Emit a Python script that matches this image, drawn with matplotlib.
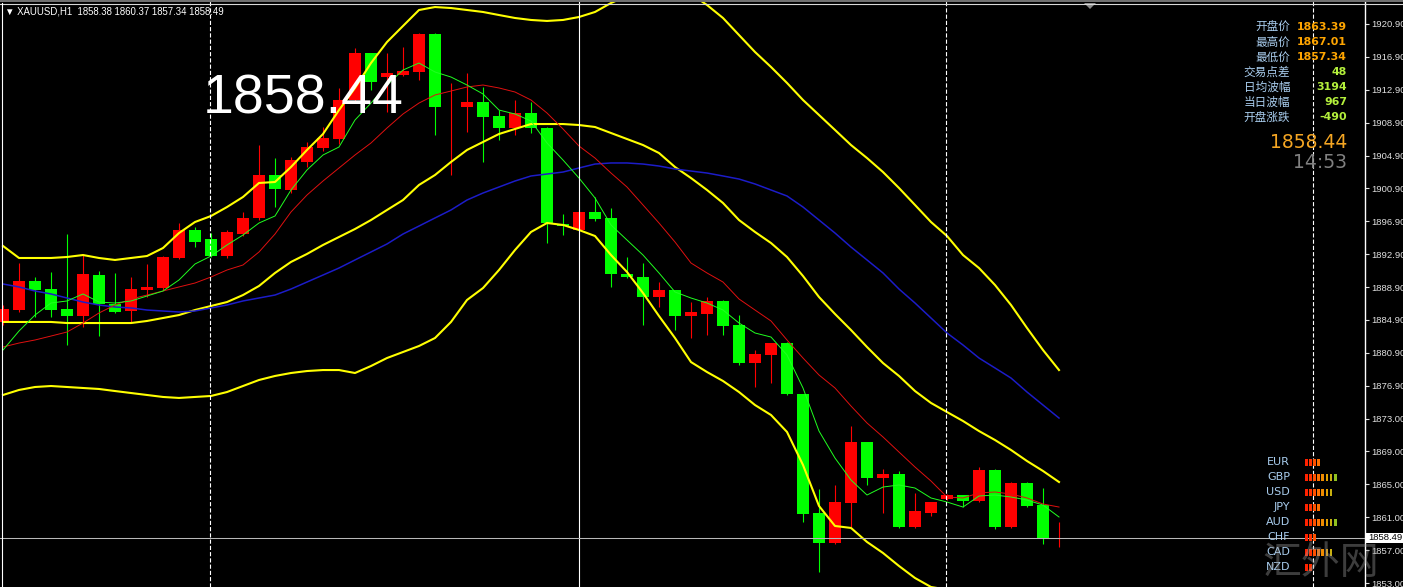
import numpy as np
import matplotlib
matplotlib.use("Agg")
import matplotlib.pyplot as plt
from matplotlib.patches import Rectangle, Polygon
from matplotlib.lines import Line2D

plt.rcParams['font.family'] = ['Liberation Sans', 'DejaVu Sans']
plt.rcParams['lines.scale_dashes'] = False

# XAUUSD H1 bars, oldest -> newest
opens = [1884.71, 1886.16, 1889.68, 1888.71, 1886.29, 1885.43, 1890.41, 1886.89, 1886.04, 1888.59,
         1888.83, 1892.48, 1895.88, 1894.79, 1892.72, 1895.39, 1897.34, 1902.56, 1900.74, 1904.14,
         1905.84, 1906.93, 1911.67, 1917.38, 1914.46, 1914.71, 1915.07, 1919.69, 1910.88, 1910.82,
         1911.43, 1909.73, 1908.27, 1910.09, 1908.27, 1896.61, 1895.88, 1898.07, 1897.34, 1890.54,
         1890.17, 1887.74, 1888.59, 1885.43, 1885.68, 1887.26, 1884.34, 1879.72, 1880.70, 1882.15,
         1875.96, 1861.51, 1857.86, 1862.72, 1870.13, 1865.76, 1866.24, 1859.81, 1861.51, 1863.21,
         1863.69, 1862.96, 1866.73, 1859.81, 1865.15, 1862.47, 1858.38]
highs = [1886.77, 1891.87, 1890.17, 1890.78, 1895.39, 1892.84, 1890.90, 1890.66, 1890.17, 1891.75,
         1892.72, 1896.73, 1896.24, 1895.51, 1895.88, 1898.07, 1906.20, 1904.62, 1904.75, 1906.57,
         1908.39, 1913.13, 1917.98, 1917.38, 1917.38, 1918.11, 1919.81, 1919.81, 1913.73, 1914.95,
         1913.25, 1910.45, 1911.67, 1911.43, 1908.39, 1897.82, 1898.19, 1899.89, 1898.55, 1892.60,
         1891.87, 1889.56, 1888.59, 1887.13, 1887.74, 1887.38, 1885.56, 1881.30, 1882.15, 1882.28,
         1875.96, 1864.42, 1864.91, 1872.07, 1870.13, 1866.85, 1866.61, 1863.94, 1862.84, 1863.81,
         1863.69, 1867.09, 1866.85, 1865.27, 1865.27, 1864.54, 1860.37]
lows = [1884.34, 1885.92, 1885.31, 1885.31, 1881.91, 1884.10, 1883.00, 1885.80, 1884.58, 1887.74,
        1888.59, 1892.36, 1893.81, 1892.60, 1892.48, 1895.15, 1897.09, 1898.67, 1900.37, 1903.53,
        1905.47, 1906.33, 1911.30, 1912.88, 1910.21, 1914.58, 1914.10, 1907.42, 1902.56, 1907.78,
        1904.14, 1906.81, 1907.42, 1907.66, 1894.30, 1895.27, 1895.76, 1896.97, 1888.96, 1890.05,
        1884.34, 1886.53, 1883.73, 1882.76, 1883.12, 1883.12, 1879.48, 1876.81, 1877.30, 1875.84,
        1860.41, 1854.34, 1857.74, 1859.81, 1864.91, 1861.51, 1859.69, 1859.69, 1861.14, 1863.08,
        1862.23, 1862.84, 1859.57, 1859.69, 1862.23, 1857.74, 1857.34]
closes = [1886.29, 1889.68, 1888.59, 1886.16, 1885.43, 1890.54, 1886.89, 1885.92, 1888.71, 1888.96,
          1892.60, 1895.88, 1894.42, 1892.72, 1895.63, 1897.34, 1902.56, 1900.86, 1904.38, 1905.96,
          1907.05, 1911.67, 1917.38, 1913.86, 1914.95, 1915.19, 1919.69, 1910.82, 1911.00, 1911.43,
          1909.60, 1908.27, 1910.09, 1908.27, 1896.73, 1896.36, 1898.07, 1897.22, 1890.54, 1890.17,
          1887.74, 1888.59, 1885.43, 1885.92, 1887.26, 1884.22, 1879.72, 1880.82, 1882.15, 1875.96,
          1861.38, 1857.86, 1862.84, 1870.13, 1865.76, 1866.24, 1859.81, 1861.75, 1862.84, 1863.69,
          1862.96, 1866.73, 1859.81, 1865.15, 1862.35, 1858.47, 1858.49]

# indicator lines
ma_fast = [1881.30, 1883.61, 1885.55, 1887.01, 1887.26, 1888.11, 1887.13, 1887.01, 1887.26, 1887.86,
           1888.47, 1889.81, 1891.75, 1892.72, 1894.06, 1895.27, 1896.73, 1897.58, 1900.74, 1903.17,
           1904.99, 1905.96, 1909.24, 1911.30, 1913.49, 1915.31, 1916.16, 1915.07, 1914.46, 1913.49,
           1912.40, 1910.45, 1909.97, 1909.12, 1906.45, 1904.38, 1902.19, 1899.77, 1896.49, 1894.66,
           1892.84, 1890.66, 1888.35, 1887.62, 1887.01, 1886.16, 1884.58, 1883.37, 1882.88, 1880.70,
           1876.69, 1871.46, 1868.18, 1865.51, 1863.69, 1864.66, 1864.91, 1864.54, 1863.33, 1862.84,
           1862.23, 1863.57, 1863.69, 1863.45, 1863.08, 1862.47, 1861.02]
ma_mid = [1881.67, 1882.15, 1882.52, 1883.00, 1883.49, 1884.58, 1885.80, 1886.77, 1887.50, 1887.98,
          1888.47, 1888.96, 1889.44, 1890.17, 1891.02, 1891.63, 1893.21, 1895.39, 1898.07, 1900.13,
          1901.83, 1903.41, 1904.99, 1906.45, 1908.27, 1909.97, 1911.30, 1912.28, 1912.76, 1913.25,
          1913.49, 1913.13, 1912.64, 1911.67, 1910.09, 1908.15, 1906.08, 1904.62, 1902.80, 1901.10,
          1898.92, 1896.73, 1894.42, 1891.87, 1890.66, 1889.56, 1887.50, 1886.16, 1884.83, 1882.52,
          1880.33, 1878.27, 1876.69, 1874.50, 1872.44, 1870.74, 1868.91, 1867.09, 1865.39, 1863.45,
          1863.33, 1863.94, 1864.06, 1863.81, 1863.33, 1862.60, 1862.23]
ma_long = [1889.32, 1888.96, 1888.47, 1888.11, 1887.62, 1887.13, 1886.77, 1886.53, 1886.41, 1886.16,
           1886.04, 1885.92, 1886.04, 1886.41, 1886.77, 1887.26, 1887.62, 1887.98, 1888.71, 1889.56,
           1890.41, 1891.26, 1892.24, 1893.21, 1894.18, 1895.39, 1896.36, 1897.34, 1898.31, 1899.52,
           1900.37, 1901.10, 1901.83, 1902.44, 1902.68, 1902.92, 1903.41, 1903.89, 1904.02, 1904.02,
           1903.89, 1903.65, 1903.29, 1903.04, 1902.80, 1902.44, 1902.07, 1901.47, 1900.74, 1900.01,
           1898.67, 1897.09, 1895.51, 1893.81, 1892.24, 1890.66, 1888.71, 1887.01, 1885.19, 1883.37,
           1881.91, 1880.33, 1879.12, 1877.90, 1876.20, 1874.62, 1873.04]
bb_upper = [1893.94, 1892.48, 1892.48, 1892.48, 1892.60, 1892.84, 1892.48, 1892.24, 1892.48, 1892.72,
            1893.69, 1895.51, 1896.85, 1897.58, 1898.67, 1899.89, 1901.59, 1901.71, 1903.53, 1905.60,
            1907.54, 1910.45, 1913.13, 1916.16, 1918.71, 1920.66, 1922.60, 1922.96, 1922.84, 1922.60,
            1922.36, 1921.99, 1921.63, 1921.39, 1921.27, 1921.39, 1921.75, 1922.36, 1923.45, 1924.30,
            1924.79, 1925.27, 1925.03, 1924.54, 1923.21, 1921.63, 1919.56, 1917.50, 1915.68, 1913.74,
            1911.67, 1909.85, 1908.03, 1906.20, 1904.62, 1902.92, 1900.98, 1898.92, 1896.85, 1895.15,
            1892.84, 1891.26, 1889.20, 1886.77, 1883.98, 1881.30, 1878.87]
bb_middle = [1884.71, 1884.71, 1884.71, 1884.71, 1884.58, 1884.58, 1884.58, 1884.58, 1884.58, 1884.83,
             1885.19, 1885.55, 1886.16, 1886.65, 1887.13, 1887.98, 1889.08, 1890.66, 1892.00, 1892.97,
             1894.06, 1895.03, 1896.00, 1897.09, 1898.31, 1899.52, 1901.35, 1902.56, 1904.14, 1905.60,
             1906.57, 1907.54, 1908.15, 1908.75, 1908.75, 1908.75, 1908.63, 1908.39, 1907.66, 1906.93,
             1906.20, 1905.23, 1903.53, 1902.19, 1900.74, 1899.16, 1897.09, 1895.64, 1894.30, 1892.60,
             1890.29, 1887.74, 1885.68, 1883.73, 1881.67, 1879.72, 1878.15, 1876.32, 1874.87, 1873.77,
             1872.68, 1871.46, 1870.37, 1869.16, 1867.82, 1866.61, 1865.27]
bb_lower = [1875.84, 1876.45, 1876.81, 1876.93, 1876.81, 1876.69, 1876.57, 1876.32, 1876.08, 1875.84,
            1875.60, 1875.48, 1875.60, 1875.72, 1876.20, 1876.93, 1877.66, 1878.15, 1878.51, 1878.75,
            1878.87, 1878.87, 1878.51, 1879.36, 1880.33, 1881.06, 1881.79, 1882.76, 1884.71, 1887.38,
            1888.83, 1891.02, 1893.45, 1895.64, 1896.73, 1896.49, 1895.88, 1895.15, 1892.84, 1890.78,
            1888.23, 1885.43, 1882.76, 1879.84, 1878.63, 1877.54, 1876.20, 1874.62, 1873.41, 1871.35,
            1867.34, 1862.36, 1859.93, 1859.69, 1857.99, 1856.65, 1855.07, 1853.61, 1852.52, 1852.20,
            1852.10, 1851.67, 1851.55, 1851.55, 1851.67, 1851.91, 1851.67]

price_labels = ["1920.90", "1916.90", "1912.90", "1908.90", "1904.90", "1900.90", "1896.90",
                "1892.90", "1888.90", "1884.90", "1880.90", "1876.90", "1873.00", "1869.00",
                "1865.00", "1861.00", "1857.00", "1853.00"]
separator_bars = [12.95, 58.95, 81.85]
cursor_bar = 36
last_price = 1858.49
header = "\u25bc XAUUSD,H1  1858.38 1860.37 1857.34 1858.49"
big_price = "1858.44"
clock = "14:53"

info_labels = ["开盘价", "最高价", "最低价", "交易点差", "日均波幅", "当日波幅", "开盘涨跌"]
info_values = ["1863.39", "1867.01", "1857.34", "48", "3194", "967", "-490"]
currencies = ["EUR", "GBP", "USD", "JPY", "AUD", "CHF", "CAD", "NZD"]
strength = [4, 8, 7, 4, 8, 3, 7, 2]

W, H = 1403, 587
def fx(px):
    return px / W
def fy(py):
    return 1 - py / H

fig = plt.figure(figsize=(W / 100, H / 100), dpi=100, facecolor='black')
ax = fig.add_axes([0, 0, 1365 / W, 1])
ax.set_facecolor('black')

n = len(opens)
x = np.arange(n)
o = np.array(opens); c = np.array(closes)
up = c >= o
col = np.where(up, '#ff0000', '#00ff00')

# candles (red = up, green = down)
ax.vlines(x, lows, highs, colors=col, linewidth=0.8, zorder=2)
body_lo = np.minimum(o, c)
body_h = np.maximum(np.abs(c - o), 0.12)
ax.bar(x, body_h, bottom=body_lo, width=0.69, color=col, linewidth=0, zorder=2)

# indicators
ax.plot(x, bb_upper, color='#ffff00', lw=1.5, zorder=3)
ax.plot(x, bb_middle, color='#ffff00', lw=1.5, zorder=3)
ax.plot(x, bb_lower, color='#ffff00', lw=1.5, zorder=3)
ax.plot(x, ma_long, color='#1c1cc8', lw=1.1, zorder=3)
ax.plot(x, ma_mid, color='#e01010', lw=0.7, zorder=3)
ax.plot(x, ma_fast, color='#20ff20', lw=0.7, zorder=3)

# separators and cursor line
for s in separator_bars:
    ax.axvline(s, color='white', lw=0.8, ls=(0, (3, 1.5)), zorder=4)
ax.axvline(cursor_bar, color='white', lw=0.8, zorder=4)
ax.axhline(last_price, color='#b8b8b8', lw=0.75, zorder=4)

ax.set_xlim(-0.1875, (1365 - 3) / 16)
ax.set_ylim(1923.815 - 587 * 0.12146, 1923.815)
ax.set_xticks([])
ax.yaxis.tick_right()
ax.set_yticks(np.linspace(1920.9, 1853.0, len(price_labels)))
ax.set_yticklabels(price_labels)
ax.tick_params(axis='y', colors='#e0e0e0', labelcolor='#e0e0e0', length=3, width=0.8,
               pad=1.5, labelsize=6.8)
for sp in ['left', 'top', 'bottom']:
    ax.spines[sp].set_visible(False)
ax.spines['right'].set_color('white')
ax.spines['right'].set_linewidth(1)

# frame bits
fig.add_artist(Rectangle((0, fy(2)), 1, 2 / H, transform=fig.transFigure, color='#707070', lw=0))
fig.add_artist(Line2D([0, 1], [fy(3.5), fy(3.5)], transform=fig.transFigure, color='#d8d8d8', lw=0.8))
fig.add_artist(Line2D([fx(1.5), fx(1.5)], [0, fy(3)], transform=fig.transFigure, color='white', lw=0.8))
fig.add_artist(Polygon([(fx(1084), fy(3)), (fx(1096), fy(3)), (fx(1090), fy(9))],
                       closed=True, transform=fig.transFigure, color='#8a8a8a', lw=0))

# header and big bid
fig.text(fx(5), fy(11), header, color='white', fontsize=6.9, va='center', ha='left')
fig.text(fx(203), fy(113), big_price, color='white', fontsize=40, va='baseline', ha='left',
         zorder=6)

# info panel
for i, (lab, val) in enumerate(zip(info_labels, info_values)):
    yy = fy(27 + 15 * i)
    fig.text(fx(1290), yy, lab, color='#a9cdee', fontsize=8.4, ha='right', va='center',
             family=['Noto Sans CJK SC', 'DejaVu Sans'])
    vcol = '#ffa500' if i < 3 else '#b4f03c'
    fig.text(fx(1347), yy, val, color=vcol, fontsize=7.9, fontweight='bold', ha='right',
             va='center', family='DejaVu Sans')
fig.text(fx(1347), fy(143), big_price, color='#f5a623', fontsize=13.5, ha='right', va='center',
         family='DejaVu Sans')
fig.text(fx(1347), fy(163), clock, color='#808080', fontsize=13.5, ha='right', va='center',
         family='DejaVu Sans')

# currency strength panel
bar_cols = ['#ff2200', '#ff3300', '#ff5000', '#ff7000', '#f08c00', '#e0a000', '#c8b010', '#90c020']
for r, (cur, k) in enumerate(zip(currencies, strength)):
    yc = 462 + 15 * r
    fig.text(fx(1290), fy(yc), cur, color='#a9cdee', fontsize=8, ha='right', va='center',
             family='DejaVu Sans')
    for j in range(k):
        fig.add_artist(Rectangle((fx(1305 + 4.1 * j), fy(yc + 3.5)), 2.8 / W, 7 / H,
                                 transform=fig.transFigure, color=bar_cols[j], lw=0))

# current price label
fig.add_artist(Rectangle((fx(1365), fy(543)), 38 / W, 10 / H, transform=fig.transFigure,
                         color='white', lw=0, zorder=7))
fig.text(fx(1368.5), fy(538), "%.2f" % last_price, color='black', fontsize=6.8, ha='left',
         va='center', zorder=8)

# watermark
fig.text(fx(1262), fy(563), "汇外网", color='#9a9a9a', alpha=0.4, fontsize=28, ha='left',
         va='center', family=['Noto Sans CJK SC', 'DejaVu Sans'], zorder=9)

fig.savefig('out.png', dpi=100, facecolor='black')
plt.close(fig)
